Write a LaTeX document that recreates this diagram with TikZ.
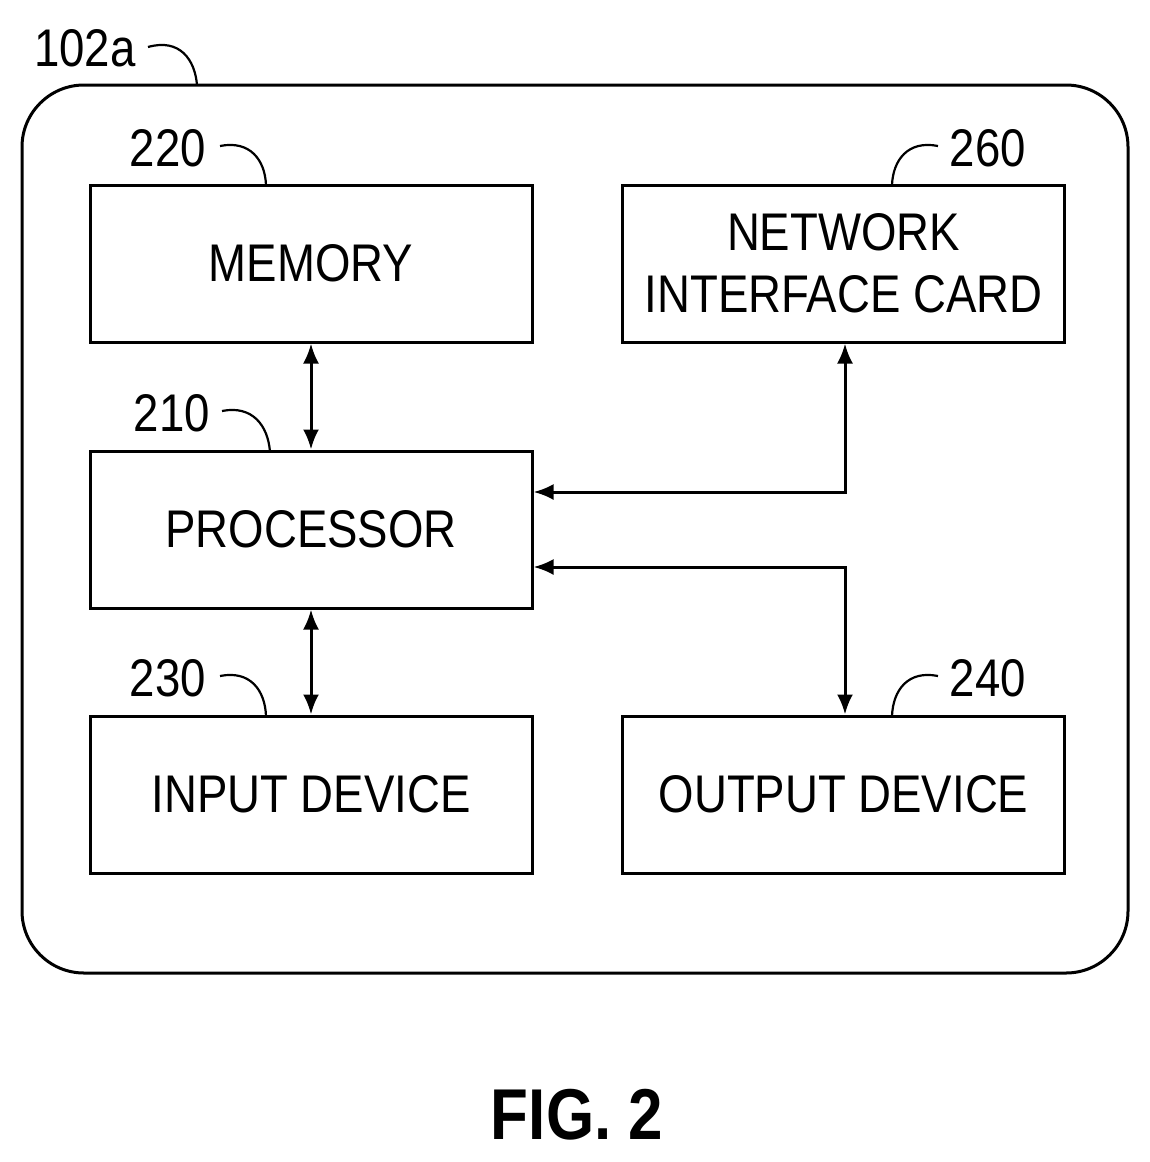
\documentclass[tikz,border=0pt]{standalone}
\usepackage{fontspec}
\setmainfont{Liberation Sans}[FakeStretch=0.86]
\usetikzlibrary{arrows.meta}
\begin{document}
\begin{tikzpicture}[x=1pt,y=-1pt,
  box/.style={draw,line width=3pt,minimum width=442pt,minimum height=157pt,inner sep=0pt,align=center,font=\fontsize{53}{62}\selectfont},
  lbl/.style={font=\fontsize{53}{60}\selectfont,inner sep=0pt},
  lead/.style={line width=2.2pt},
  arr/.style={line width=3pt,{Latex[length=20pt,width=16pt]}-{Latex[length=20pt,width=16pt]}}]
\useasboundingbox (0,0) rectangle (1150,1162);
\draw[line width=3pt,rounded corners=62pt] (22,85) rectangle (1128,973);
\node[box] (mem) at (311,263.5) {MEMORY};
\node[box] (nic) at (843.5,263.5) {NETWORK\\INTERFACE CARD};
\node[box] (proc) at (311,529.5) {PROCESSOR};
\node[box] (in) at (311,794.5) {INPUT DEVICE};
\node[box] (out) at (843.5,794.5) {OUTPUT DEVICE};
\draw[arr] (mem.south) -- (proc.north);
\draw[arr] (proc.south) -- (in.north);
\coordinate (c1) at (845,492);
\coordinate (c2) at (845,567);
\draw[arr] (proc.east |- c1) -- (c1) -- (c1 |- nic.south);
\draw[arr] (proc.east |- c2) -- (c2) -- (c2 |- out.north);
\node[lbl] (l102) at (85,48) {102a};
\node[lbl] (l220) at (168,148) {220};
\node[lbl] (l210) at (172,413) {210};
\node[lbl] (l230) at (168,678) {230};
\node[lbl] (l260) at (988,148) {260};
\node[lbl] (l240) at (988,678) {240};
\draw[lead] (148,47) .. controls (180,38) and (195,60) .. (197,85);
\draw[lead] (220,146) .. controls (250,140) and (265,160) .. (266,185);
\draw[lead] (222,411) .. controls (252,405) and (268,425) .. (270,452);
\draw[lead] (220,676) .. controls (250,670) and (265,690) .. (266,716);
\draw[lead] (938,146) .. controls (908,140) and (893,160) .. (892,185);
\draw[lead] (938,676) .. controls (908,670) and (893,690) .. (892,716);
\node[font=\bfseries\fontsize{72}{80}\selectfont,inner sep=0pt] (fig) at (577,1115) {FIG. 2};
\end{tikzpicture}
\end{document}
